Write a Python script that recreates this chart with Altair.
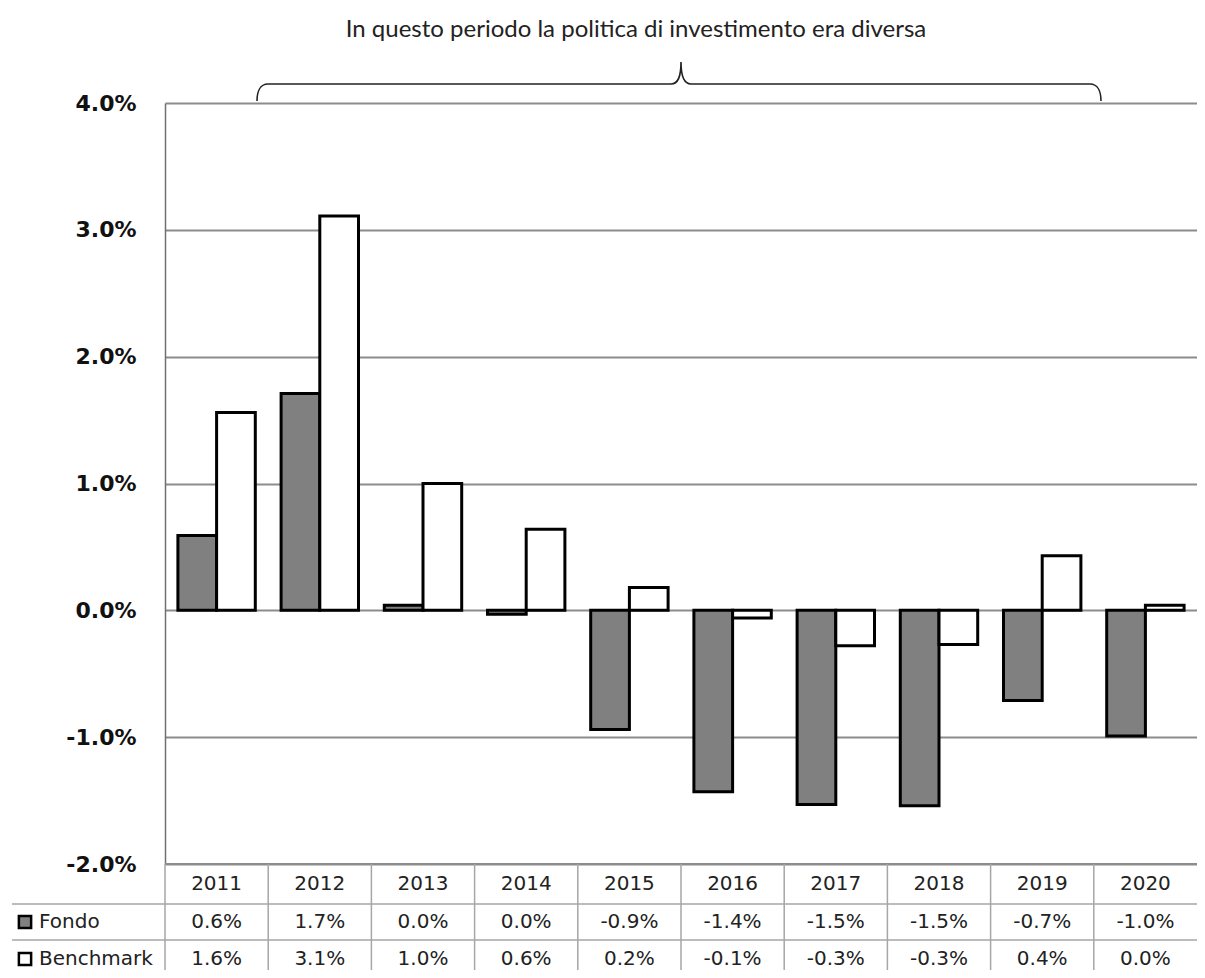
import altair as alt
import pandas as pd

# ---- data ----
years = ["2011", "2012", "2013", "2014", "2015", "2016", "2017", "2018", "2019", "2020"]
series_names = ["Fondo", "Benchmark"]
fondo = [0.59, 1.71, 0.04, -0.03, -0.94, -1.43, -1.53, -1.54, -0.71, -0.99]
benchmark = [1.56, 3.11, 1.00, 0.64, 0.18, -0.06, -0.28, -0.27, 0.43, 0.04]
y_ticks = [-2, -1, 0, 1, 2, 3, 4]
note_text = "In questo periodo la politica di investimento era diversa"

rows = []
for s, vals in zip(series_names, [fondo, benchmark]):
    for y, v in zip(years, vals):
        rows.append({"year": y, "series": s, "value": v})
df = pd.DataFrame(rows)
years_df = pd.DataFrame({"year": years})
series_df = pd.DataFrame({"series": series_names})
one = pd.DataFrame({"k": [0]})

# ---- layout (view pixels) ----
W, H = 1032, 761
FONT_T = "DejaVu Sans"
ROW_Y = {"Fondo": 819, "Benchmark": 856}
HEADER_Y = 781
SEP_Y = [801, 837]
TABLE_BOTTOM = 867
GRID = "#8c8c8c"
TLINE = "#a6a6a6"

fmt_pct = "replace(format(datum.value, '.1f'), '\u2212', '-') + '%'"

color = alt.Color("series:N",
                  scale=alt.Scale(domain=series_names, range=["#808080", "#ffffff"]),
                  legend=None)

bars = alt.Chart(df).mark_bar(stroke="black", strokeWidth=3).encode(
    x=alt.X("year:N", sort=years, axis=None,
            scale=alt.Scale(paddingInner=0, paddingOuter=0)),
    xOffset=alt.XOffset("series:N", sort=series_names,
                        scale=alt.Scale(domain=series_names, paddingInner=0, paddingOuter=1 / 3)),
    y=alt.Y("value:Q",
            scale=alt.Scale(domain=[-2, 4], nice=False, zero=False),
            axis=alt.Axis(values=y_ticks, labelExpr=fmt_pct, title=None, ticks=False,
                          grid=True, gridColor=GRID, gridWidth=2,
                          domain=True, domainColor="#707070", domainWidth=1.5,
                          labelFont=FONT_T, labelFontWeight="bold", labelFontSize=22,
                          labelColor="#111111", labelPadding=29)),
    color=color,
)

# table: year header
header = alt.Chart(years_df).mark_text(font=FONT_T, fontSize=20, color="#222222",
                                        baseline="middle", align="center").encode(
    x=alt.X("year:N", sort=years),
    y=alt.value(HEADER_Y),
    text="year:N",
)

def value_row(name):
    return alt.Chart(df).transform_filter(
        alt.datum.series == name
    ).transform_calculate(
        label="replace(format(datum.value, '.1f'), '\u2212', '-') + '%'"
    ).mark_text(font=FONT_T, fontSize=20, color="#222222",
                baseline="middle", align="center").encode(
        x=alt.X("year:N", sort=years),
        y=alt.value(ROW_Y[name]),
        text="label:N",
    )

def row_label(name):
    base = alt.Chart(series_df).transform_filter(alt.datum.series == name)
    sw = base.mark_square(size=150, filled=True, stroke="black", strokeWidth=2.5, opacity=1).encode(
        x=alt.value(-140), y=alt.value(ROW_Y[name]), color=color)
    tx = base.mark_text(font=FONT_T, fontSize=20, color="#222222", align="left",
                        baseline="middle").encode(
        x=alt.value(-126), y=alt.value(ROW_Y[name]), text="series:N")
    return sw + tx

col_rules = alt.Chart(years_df).mark_rule(color=TLINE, strokeWidth=1.5).encode(
    x=alt.X("year:N", sort=years, bandPosition=0),
    y=alt.value(H), y2=alt.value(TABLE_BOTTOM),
)

sep_rules = [
    alt.Chart(one).mark_rule(color=TLINE, strokeWidth=1.5).encode(
        x=alt.value(-153), x2=alt.value(W), y=alt.value(sy))
    for sy in SEP_Y
]

bottom_line = alt.Chart(one).mark_rule(color=GRID, strokeWidth=2).encode(
    x=alt.value(0), x2=alt.value(W), y=alt.value(H))

# brace + note above the chart
brace_path = ("M -424 0 C -424 -9 -421 -17 -413 -17 L -10 -17 C -3 -17 0 -24 0 -39 "
              "C 0 -24 3 -17 10 -17 L 409 -17 C 417 -17 420 -9 420 0")
brace = alt.Chart(one).mark_point(shape=brace_path, size=4, filled=False,
                                  stroke="#222222", strokeWidth=1.6, opacity=1).encode(
    x=alt.value(516), y=alt.value(-2))

note = alt.Chart(pd.DataFrame({"t": [note_text]})).mark_text(
    font="Lato", fontSize=24, color="#222222", align="center", baseline="middle").encode(
    x=alt.value(471), y=alt.value(-73), text="t:N")

chart = alt.layer(
    bars, bottom_line, col_rules, *sep_rules, header,
    value_row("Fondo"), value_row("Benchmark"),
    row_label("Fondo"), row_label("Benchmark"),
    brace, note,
).properties(
    width=W, height=H,
    autosize=alt.AutoSizeParams(type="none"),
    padding={"left": 157, "top": 95, "right": 0, "bottom": 106},
).configure_view(stroke=None)

chart.save("out.html", embed_options={"renderer": "svg", "actions": False})
